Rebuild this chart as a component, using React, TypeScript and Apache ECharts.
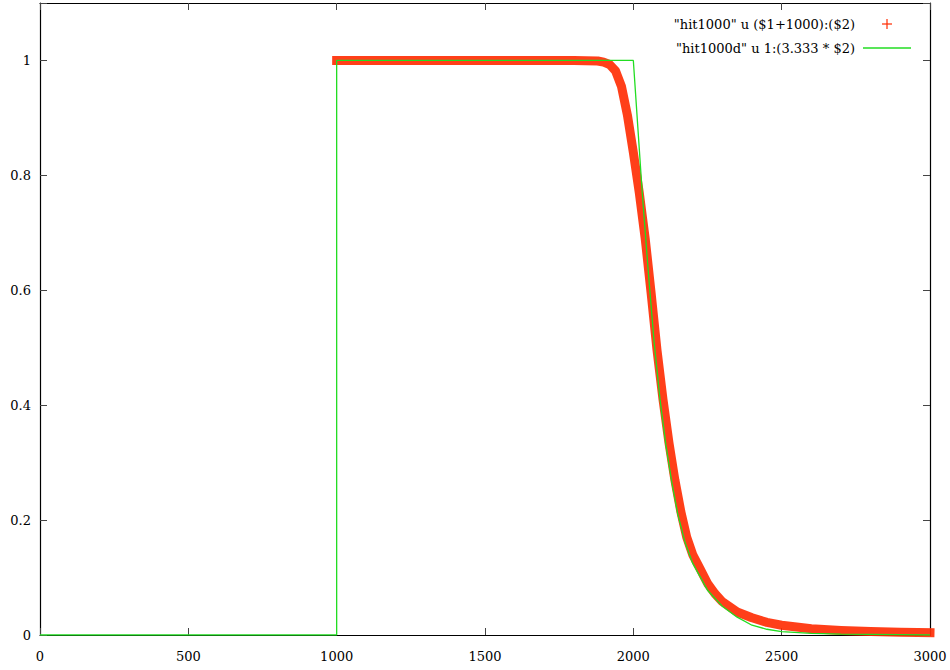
import React, { useEffect, useRef } from "react";
import * as echarts from "echarts";

// "hit1000" u ($1+1000):($2)
const redX = [1000, 1200, 1400, 1600, 1800, 1880, 1900, 1920, 1940, 1960, 1980, 2000, 2020, 2040, 2060, 2080, 2100, 2120, 2140, 2160, 2180, 2200, 2225, 2250, 2275, 2300, 2350, 2400, 2450, 2500, 2600, 2700, 2800, 2900, 3000];
const redY = [1.0, 1.0, 1.0, 1.0, 1.0, 0.999, 0.997, 0.993, 0.982, 0.955, 0.905, 0.84, 0.77, 0.69, 0.595, 0.495, 0.41, 0.335, 0.27, 0.215, 0.17, 0.14, 0.115, 0.09, 0.072, 0.058, 0.04, 0.03, 0.022, 0.017, 0.011, 0.008, 0.006, 0.005, 0.004];

// "hit1000d" u 1:(3.333 * $2)
const greenX = [0, 1000, 1000, 2000, 2030, 2050, 2070, 2090, 2110, 2130, 2150, 2175, 2200, 2250, 2300, 2350, 2400, 2450, 2500, 2600, 2700, 2800, 2900, 3000];
const greenY = [0, 0, 1.0, 1.0, 0.77, 0.635, 0.51, 0.41, 0.33, 0.265, 0.21, 0.16, 0.125, 0.078, 0.05, 0.031, 0.017, 0.01, 0.006, 0.003, 0.0015, 0.001, 0.0005, 0];

const legendLabels = ['"hit1000" u ($1+1000):($2)', '"hit1000d" u 1:(3.333 * $2)'];

const X_MIN = 0, X_MAX = 3000, X_STEP = 500;
const Y_MIN = 0, Y_MAX = 1.1, Y_STEP = 0.2;

const RED = "#ff2a00";
const GREEN = "#22dd22";
const FONT = "DejaVu Serif";
const FS = 13;

export default function App() {
  const ref = useRef<HTMLDivElement>(null);
  useEffect(() => {
    if (!ref.current) return;
    const chart = echarts.init(ref.current, undefined, { renderer: "svg" });
    const redData = redX.map((x, i) => [x, redY[i]]);
    const greenData = greenX.map((x, i) => [x, greenY[i]]);
    const tick = { show: true, inside: true, length: 7, lineStyle: { color: "#444", width: 1 } };
    const line = { show: true, onZero: false, lineStyle: { color: "#000", width: 1.2 } };
    const lx = 855, ly1 = 24, ly2 = 48;
    chart.setOption({
      animation: false,
      backgroundColor: "#fff",
      textStyle: { fontFamily: FONT },
      grid: { left: 40, right: 20, top: 3, bottom: 35, containLabel: false },
      xAxis: [
        {
          type: "value", min: X_MIN, max: X_MAX, interval: X_STEP, position: "bottom",
          axisLine: line, axisTick: tick, splitLine: { show: false },
          axisLabel: { color: "#000", fontFamily: FONT, fontSize: FS, margin: 15, formatter: (v: number) => String(v) },
        },
        {
          type: "value", min: X_MIN, max: X_MAX, interval: X_STEP, position: "top",
          axisLine: line, axisTick: tick, splitLine: { show: false }, axisLabel: { show: false },
        },
      ],
      yAxis: [
        {
          type: "value", min: Y_MIN, max: Y_MAX, interval: Y_STEP, position: "left",
          axisLine: line, axisTick: tick, splitLine: { show: false },
          axisLabel: {
            color: "#000", fontFamily: FONT, fontSize: FS, margin: 9,
            formatter: (v: number) => (v > 1.05 ? "" : String(Math.round(v * 10) / 10)),
          },
        },
        {
          type: "value", min: Y_MIN, max: Y_MAX, interval: Y_STEP, position: "right",
          axisLine: line, axisTick: tick, splitLine: { show: false }, axisLabel: { show: false },
        },
      ],
      series: [
        {
          name: legendLabels[0], type: "line", data: redData, showSymbol: false, clip: false,
          lineStyle: { color: RED, width: 9, cap: "square", join: "round", opacity: 0.9 }, z: 2,
        },
        {
          name: legendLabels[1], type: "line", data: greenData, showSymbol: false,
          lineStyle: { color: GREEN, width: 1.3 }, z: 3,
        },
      ],
      graphic: [
        {
          type: "text", x: lx, y: ly1,
          style: { text: legendLabels[0], fontSize: FS, fontFamily: FONT, fill: "#000", align: "right", verticalAlign: "middle" },
        },
        { type: "line", shape: { x1: 882, y1: ly1, x2: 892, y2: ly1 }, style: { stroke: RED, lineWidth: 1.2 } },
        { type: "line", shape: { x1: 887, y1: ly1 - 5, x2: 887, y2: ly1 + 5 }, style: { stroke: RED, lineWidth: 1.2 } },
        {
          type: "text", x: lx, y: ly2,
          style: { text: legendLabels[1], fontSize: FS, fontFamily: FONT, fill: "#000", align: "right", verticalAlign: "middle" },
        },
        { type: "line", shape: { x1: 863, y1: ly2, x2: 911, y2: ly2 }, style: { stroke: GREEN, lineWidth: 1.5 } },
      ],
    });
    return () => chart.dispose();
  }, []);
  return <div ref={ref} style={{ position: "fixed", left: 0, top: 0, width: 950, height: 670, background: "#fff" }} />;
}
